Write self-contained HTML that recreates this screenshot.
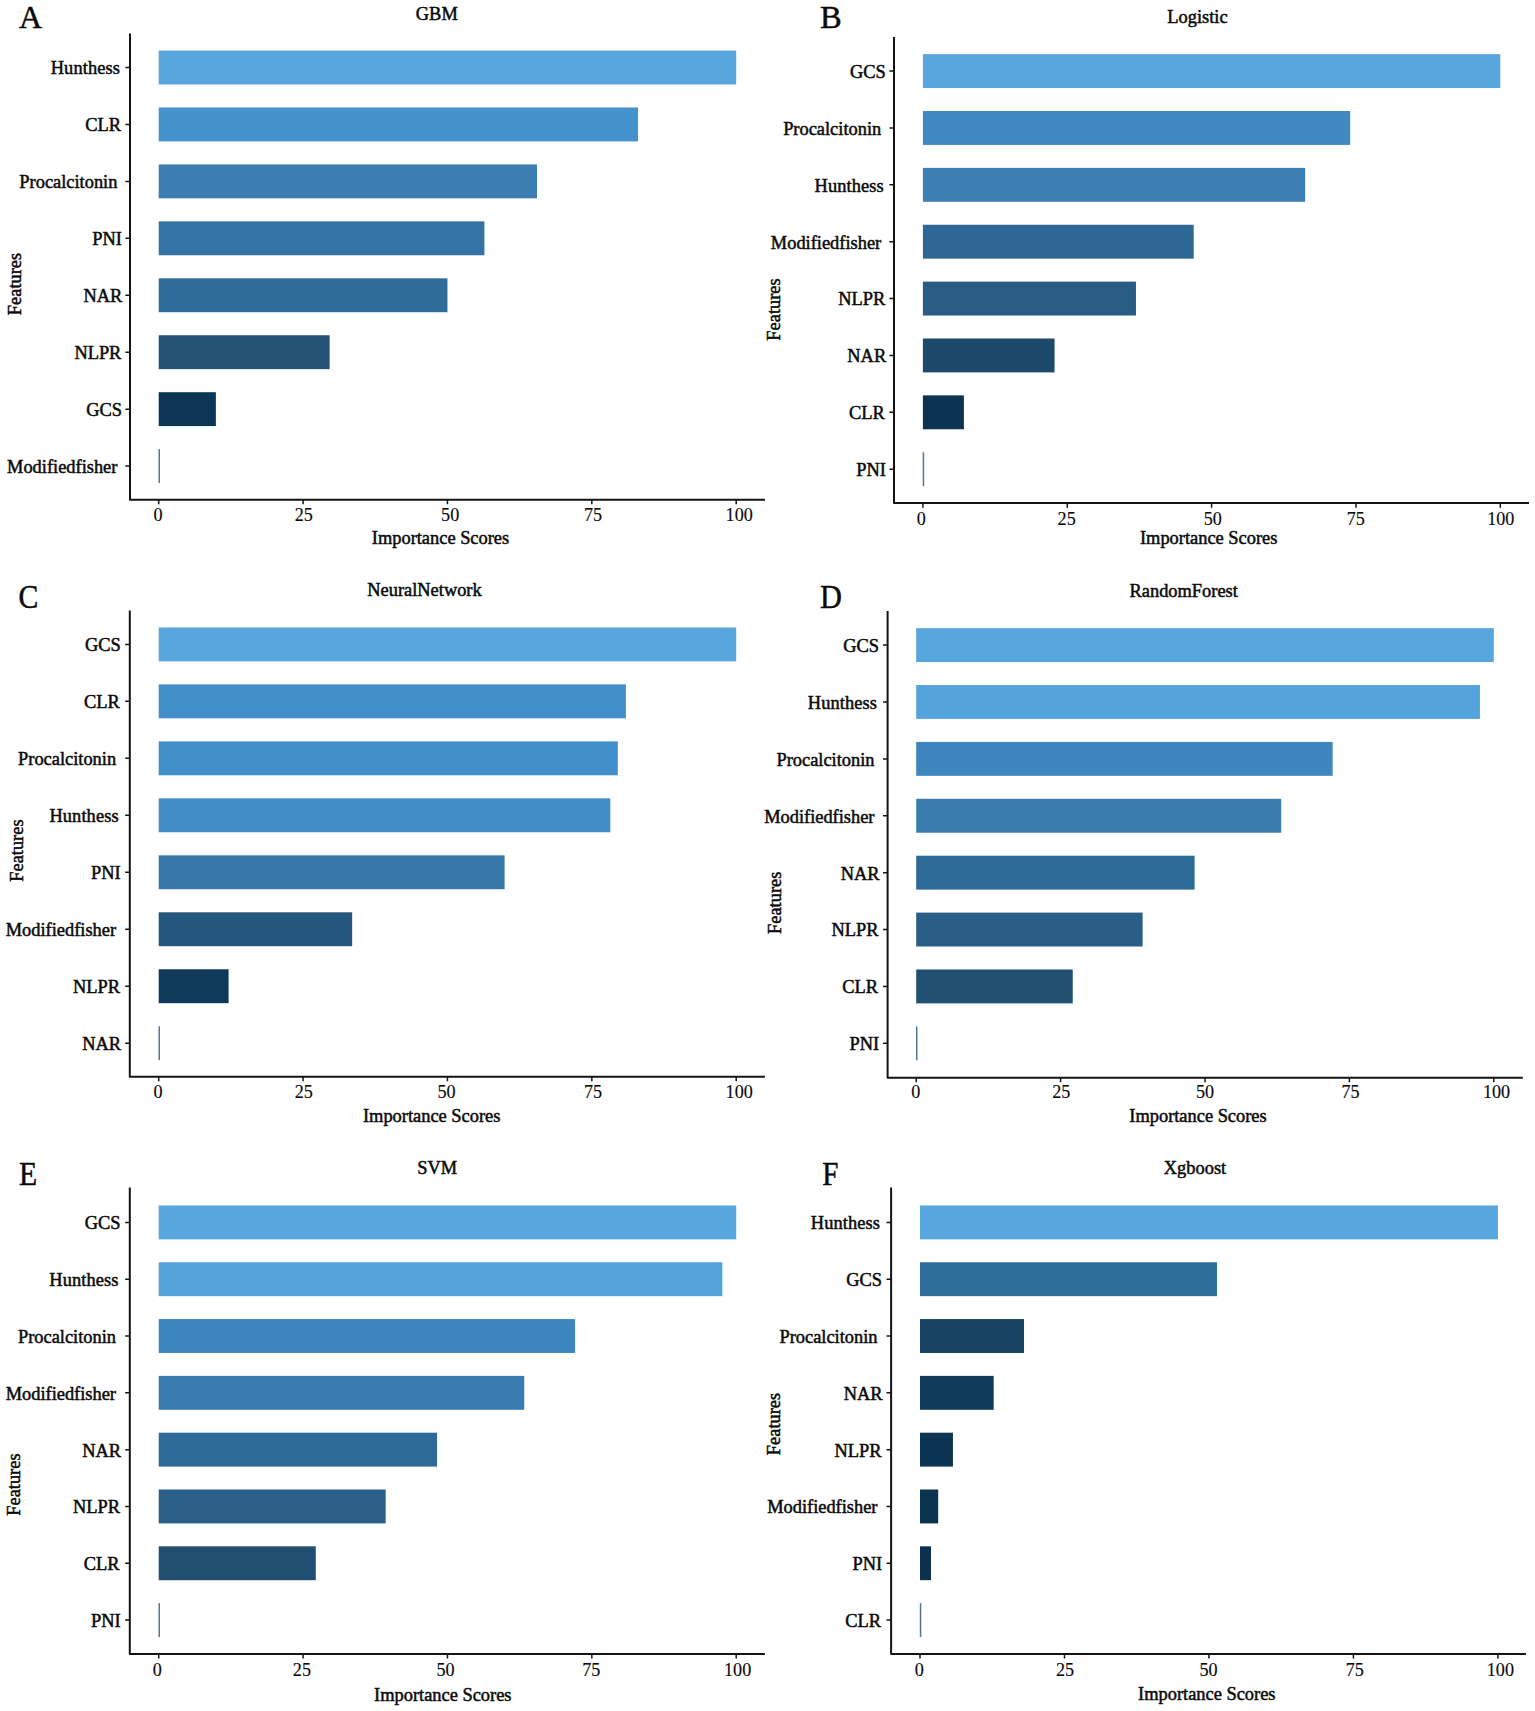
<!DOCTYPE html>
<html lang="en"><head><meta charset="utf-8"><title>Feature importance by model</title>
<style>html,body{margin:0;padding:0;background:#fff}svg{display:block;font-family:"Liberation Serif",serif;font-variant-ligatures:none;font-kerning:none}text{fill:#0a0a0a;stroke:#0a0a0a;stroke-width:0.5px}text.n{stroke-width:0.15px}</style></head><body>
<svg width="1535" height="1711" viewBox="0 0 1535 1711">
<rect width="1535" height="1711" fill="#ffffff"/>
<g>
<text transform="translate(19 27.5) scale(1 1)" font-size="32">A</text>
<text x="436.8" y="20" font-size="18.4" text-anchor="middle">GBM</text>
<rect x="158.7" y="50.55" width="577.5" height="33.9" fill="#57a6dd"/>
<rect x="158.7" y="107.49" width="479.33" height="33.9" fill="#4493ce"/>
<rect x="158.7" y="164.43" width="378.26" height="33.9" fill="#3b7eb2"/>
<rect x="158.7" y="221.37" width="325.71" height="33.9" fill="#3474a4"/>
<rect x="158.7" y="278.31" width="288.75" height="33.9" fill="#2f6c9a"/>
<rect x="158.7" y="335.25" width="170.94" height="33.9" fill="#235274"/>
<rect x="158.7" y="392.19" width="57.17" height="33.9" fill="#0c3654"/>
<rect x="158.5" y="449.13" width="1.5" height="33.9" fill="#587689"/>
<path d="M130 33.4V499.7H765" fill="none" stroke="#141414" stroke-width="2" stroke-linejoin="round"/>
<text x="120" y="74.4" font-size="18.4" text-anchor="end" letter-spacing="0.1">Hunthess</text>
<text x="121" y="131.34" font-size="18.4" text-anchor="end">CLR</text>
<text x="117.4" y="188.28" font-size="18.4" text-anchor="end">Procalcitonin</text>
<text x="122" y="245.22" font-size="18.4" text-anchor="end">PNI</text>
<text x="122.4" y="302.16" font-size="18.4" text-anchor="end">NAR</text>
<text x="121.4" y="359.1" font-size="18.4" text-anchor="end">NLPR</text>
<text x="122" y="416.04" font-size="18.4" text-anchor="end">GCS</text>
<text x="117.4" y="472.98" font-size="18.4" text-anchor="end">Modifiedfisher</text>
<text class="n" transform="translate(158 520.8) scale(0.955 1)" font-size="19" text-anchor="middle">0</text>
<text class="n" transform="translate(303.77 520.8) scale(0.955 1)" font-size="19" text-anchor="middle">25</text>
<text class="n" transform="translate(450.15 520.8) scale(0.955 1)" font-size="19" text-anchor="middle">50</text>
<text class="n" transform="translate(593.03 520.8) scale(0.955 1)" font-size="19" text-anchor="middle">75</text>
<text class="n" transform="translate(739.2 520.8) scale(0.955 1)" font-size="19" text-anchor="middle">100</text>
<path d="M125.4 67.5h4.6M125.4 124.44h4.6M125.4 181.38h4.6M125.4 238.32h4.6M125.4 295.26h4.6M125.4 352.2h4.6M125.4 409.14h4.6M125.4 466.08h4.6M158.7 499.7v4.6M303.07 499.7v4.6M447.45 499.7v4.6M591.83 499.7v4.6M736.2 499.7v4.6" fill="none" stroke="#141414" stroke-width="1.5"/>
<text x="440.5" y="543.7" font-size="18.4" text-anchor="middle">Importance Scores</text>
<text transform="translate(21 284) rotate(-90)" font-size="18.4" text-anchor="middle">Features</text>
</g>
<g>
<text transform="translate(820 27.8) scale(1 1)" font-size="32.5">B</text>
<text x="1197.5" y="22.9" font-size="18.4" text-anchor="middle">Logistic</text>
<rect x="922.9" y="54.15" width="577.4" height="33.9" fill="#57a6dd"/>
<rect x="922.9" y="111.02" width="427.28" height="33.9" fill="#3f88c1"/>
<rect x="922.9" y="167.89" width="382.24" height="33.9" fill="#3c7fb4"/>
<rect x="922.9" y="224.76" width="270.8" height="33.9" fill="#2d6894"/>
<rect x="922.9" y="281.63" width="213.06" height="33.9" fill="#285c82"/>
<rect x="922.9" y="338.5" width="131.65" height="33.9" fill="#1d496b"/>
<rect x="922.9" y="395.37" width="41" height="33.9" fill="#0c3452"/>
<rect x="922.7" y="452.24" width="1.5" height="33.9" fill="#587689"/>
<path d="M894 37V503.1H1529" fill="none" stroke="#141414" stroke-width="2" stroke-linejoin="round"/>
<text x="885.8" y="78" font-size="18.4" text-anchor="end">GCS</text>
<text x="881.2" y="134.87" font-size="18.4" text-anchor="end">Procalcitonin</text>
<text x="883.8" y="191.74" font-size="18.4" text-anchor="end" letter-spacing="0.1">Hunthess</text>
<text x="881.2" y="248.61" font-size="18.4" text-anchor="end">Modifiedfisher</text>
<text x="885.2" y="305.48" font-size="18.4" text-anchor="end">NLPR</text>
<text x="886.2" y="362.35" font-size="18.4" text-anchor="end">NAR</text>
<text x="884.8" y="419.22" font-size="18.4" text-anchor="end">CLR</text>
<text x="885.8" y="476.09" font-size="18.4" text-anchor="end">PNI</text>
<text class="n" transform="translate(921.4 525) scale(0.955 1)" font-size="19" text-anchor="middle">0</text>
<text class="n" transform="translate(1066.65 525) scale(0.955 1)" font-size="19" text-anchor="middle">25</text>
<text class="n" transform="translate(1212.8 525) scale(0.955 1)" font-size="19" text-anchor="middle">50</text>
<text class="n" transform="translate(1355.75 525) scale(0.955 1)" font-size="19" text-anchor="middle">75</text>
<text class="n" transform="translate(1500.8 525) scale(0.955 1)" font-size="19" text-anchor="middle">100</text>
<path d="M889.4 71.1h4.6M889.4 127.97h4.6M889.4 184.84h4.6M889.4 241.71h4.6M889.4 298.58h4.6M889.4 355.45h4.6M889.4 412.32h4.6M889.4 469.19h4.6M922.9 503.1v4.6M1067.25 503.1v4.6M1211.6 503.1v4.6M1355.95 503.1v4.6M1500.3 503.1v4.6" fill="none" stroke="#141414" stroke-width="1.5"/>
<text x="1208.7" y="543.7" font-size="18.4" text-anchor="middle">Importance Scores</text>
<text transform="translate(780.3 309.5) rotate(-90)" font-size="18.4" text-anchor="middle">Features</text>
</g>
<g>
<text transform="translate(18.6 608.1) scale(0.9 1)" font-size="33">C</text>
<text x="424.5" y="596" font-size="18.4" text-anchor="middle">NeuralNetwork</text>
<rect x="158.7" y="627.45" width="577.5" height="33.9" fill="#57a6dd"/>
<rect x="158.7" y="684.42" width="467.2" height="33.9" fill="#4190cc"/>
<rect x="158.7" y="741.39" width="459.11" height="33.9" fill="#408eca"/>
<rect x="158.7" y="798.36" width="451.61" height="33.9" fill="#408dc8"/>
<rect x="158.7" y="855.33" width="345.92" height="33.9" fill="#3778a9"/>
<rect x="158.7" y="912.3" width="193.46" height="33.9" fill="#25577c"/>
<rect x="158.7" y="969.27" width="69.88" height="33.9" fill="#0f3958"/>
<rect x="158.5" y="1026.24" width="1.5" height="33.9" fill="#587689"/>
<path d="M129.8 610.4V1076.7H764.9" fill="none" stroke="#141414" stroke-width="2" stroke-linejoin="round"/>
<text x="120.7" y="651.3" font-size="18.4" text-anchor="end">GCS</text>
<text x="119.7" y="708.27" font-size="18.4" text-anchor="end">CLR</text>
<text x="116.1" y="765.24" font-size="18.4" text-anchor="end">Procalcitonin</text>
<text x="118.7" y="822.21" font-size="18.4" text-anchor="end" letter-spacing="0.1">Hunthess</text>
<text x="120.7" y="879.18" font-size="18.4" text-anchor="end">PNI</text>
<text x="116.1" y="936.15" font-size="18.4" text-anchor="end">Modifiedfisher</text>
<text x="120.1" y="993.12" font-size="18.4" text-anchor="end">NLPR</text>
<text x="121.1" y="1050.09" font-size="18.4" text-anchor="end">NAR</text>
<text class="n" transform="translate(158 1098.1) scale(0.955 1)" font-size="19" text-anchor="middle">0</text>
<text class="n" transform="translate(303.77 1098.1) scale(0.955 1)" font-size="19" text-anchor="middle">25</text>
<text class="n" transform="translate(446.45 1098.1) scale(0.955 1)" font-size="19" text-anchor="middle">50</text>
<text class="n" transform="translate(593.03 1098.1) scale(0.955 1)" font-size="19" text-anchor="middle">75</text>
<text class="n" transform="translate(739.2 1098.1) scale(0.955 1)" font-size="19" text-anchor="middle">100</text>
<path d="M125.2 644.4h4.6M125.2 701.37h4.6M125.2 758.34h4.6M125.2 815.31h4.6M125.2 872.28h4.6M125.2 929.25h4.6M125.2 986.22h4.6M125.2 1043.19h4.6M158.7 1076.7v4.6M303.07 1076.7v4.6M447.45 1076.7v4.6M591.83 1076.7v4.6M736.2 1076.7v4.6" fill="none" stroke="#141414" stroke-width="1.5"/>
<text x="431.7" y="1122.3" font-size="18.4" text-anchor="middle">Importance Scores</text>
<text transform="translate(23 850.6) rotate(-90)" font-size="18.4" text-anchor="middle">Features</text>
</g>
<g>
<text transform="translate(819.9 608.2) scale(0.92 1)" font-size="33">D</text>
<text x="1183.7" y="596.8" font-size="18.4" text-anchor="middle">RandomForest</text>
<rect x="916.2" y="628.15" width="577.6" height="33.9" fill="#57a6dd"/>
<rect x="916.2" y="685.04" width="563.74" height="33.9" fill="#54a3db"/>
<rect x="916.2" y="741.93" width="416.45" height="33.9" fill="#3f86be"/>
<rect x="916.2" y="798.82" width="365.04" height="33.9" fill="#3a7cae"/>
<rect x="916.2" y="855.71" width="278.4" height="33.9" fill="#2e6a97"/>
<rect x="916.2" y="912.6" width="226.42" height="33.9" fill="#295f86"/>
<rect x="916.2" y="969.49" width="156.53" height="33.9" fill="#214f71"/>
<rect x="916" y="1026.38" width="1.5" height="33.9" fill="#587689"/>
<path d="M887.6 610.9V1077.7H1522.8" fill="none" stroke="#141414" stroke-width="2" stroke-linejoin="round"/>
<text x="879.1" y="652" font-size="18.4" text-anchor="end">GCS</text>
<text x="877.1" y="708.89" font-size="18.4" text-anchor="end" letter-spacing="0.1">Hunthess</text>
<text x="874.5" y="765.78" font-size="18.4" text-anchor="end">Procalcitonin</text>
<text x="874.5" y="822.67" font-size="18.4" text-anchor="end">Modifiedfisher</text>
<text x="879.5" y="879.56" font-size="18.4" text-anchor="end">NAR</text>
<text x="878.5" y="936.45" font-size="18.4" text-anchor="end">NLPR</text>
<text x="878.1" y="993.34" font-size="18.4" text-anchor="end">CLR</text>
<text x="879.1" y="1050.23" font-size="18.4" text-anchor="end">PNI</text>
<text class="n" transform="translate(915.7 1098.4) scale(0.955 1)" font-size="19" text-anchor="middle">0</text>
<text class="n" transform="translate(1061.2 1098.4) scale(0.955 1)" font-size="19" text-anchor="middle">25</text>
<text class="n" transform="translate(1205.1 1098.4) scale(0.955 1)" font-size="19" text-anchor="middle">50</text>
<text class="n" transform="translate(1350.6 1098.4) scale(0.955 1)" font-size="19" text-anchor="middle">75</text>
<text class="n" transform="translate(1496.5 1098.4) scale(0.955 1)" font-size="19" text-anchor="middle">100</text>
<path d="M883 645.1h4.6M883 701.99h4.6M883 758.88h4.6M883 815.77h4.6M883 872.66h4.6M883 929.55h4.6M883 986.44h4.6M883 1043.33h4.6M916.2 1077.7v4.6M1060.6 1077.7v4.6M1205 1077.7v4.6M1349.4 1077.7v4.6M1493.8 1077.7v4.6" fill="none" stroke="#141414" stroke-width="1.5"/>
<text x="1198" y="1122.3" font-size="18.4" text-anchor="middle">Importance Scores</text>
<text transform="translate(781.4 902.8) rotate(-90)" font-size="18.4" text-anchor="middle">Features</text>
</g>
<g>
<text transform="translate(19.1 1184.5) scale(0.9 1)" font-size="33">E</text>
<text x="437.2" y="1173.7" font-size="18.4" text-anchor="middle">SVM</text>
<rect x="158.7" y="1205.45" width="577.5" height="33.9" fill="#57a6dd"/>
<rect x="158.7" y="1262.26" width="563.64" height="33.9" fill="#54a3db"/>
<rect x="158.7" y="1319.07" width="416.38" height="33.9" fill="#3f86be"/>
<rect x="158.7" y="1375.88" width="365.56" height="33.9" fill="#3a7caf"/>
<rect x="158.7" y="1432.69" width="278.36" height="33.9" fill="#2e6a97"/>
<rect x="158.7" y="1489.5" width="226.96" height="33.9" fill="#2a5f87"/>
<rect x="158.7" y="1546.31" width="157.08" height="33.9" fill="#214f71"/>
<rect x="158.5" y="1603.12" width="1.5" height="33.9" fill="#587689"/>
<path d="M129.8 1187.5V1653.9H764.9" fill="none" stroke="#141414" stroke-width="2" stroke-linejoin="round"/>
<text x="120.6" y="1229.3" font-size="18.4" text-anchor="end">GCS</text>
<text x="118.6" y="1286.11" font-size="18.4" text-anchor="end" letter-spacing="0.1">Hunthess</text>
<text x="116" y="1342.92" font-size="18.4" text-anchor="end">Procalcitonin</text>
<text x="116" y="1399.73" font-size="18.4" text-anchor="end">Modifiedfisher</text>
<text x="121" y="1456.54" font-size="18.4" text-anchor="end">NAR</text>
<text x="120" y="1513.35" font-size="18.4" text-anchor="end">NLPR</text>
<text x="119.6" y="1570.16" font-size="18.4" text-anchor="end">CLR</text>
<text x="120.6" y="1626.97" font-size="18.4" text-anchor="end">PNI</text>
<text class="n" transform="translate(157.3 1675.6) scale(0.955 1)" font-size="19" text-anchor="middle">0</text>
<text class="n" transform="translate(301.88 1675.6) scale(0.955 1)" font-size="19" text-anchor="middle">25</text>
<text class="n" transform="translate(445.45 1675.6) scale(0.955 1)" font-size="19" text-anchor="middle">50</text>
<text class="n" transform="translate(591.23 1675.6) scale(0.955 1)" font-size="19" text-anchor="middle">75</text>
<text class="n" transform="translate(737.6 1675.6) scale(0.955 1)" font-size="19" text-anchor="middle">100</text>
<path d="M125.2 1222.4h4.6M125.2 1279.21h4.6M125.2 1336.02h4.6M125.2 1392.83h4.6M125.2 1449.64h4.6M125.2 1506.45h4.6M125.2 1563.26h4.6M125.2 1620.07h4.6M158.7 1653.9v4.6M303.07 1653.9v4.6M447.45 1653.9v4.6M591.83 1653.9v4.6M736.2 1653.9v4.6" fill="none" stroke="#141414" stroke-width="1.5"/>
<text x="442.8" y="1701" font-size="18.4" text-anchor="middle">Importance Scores</text>
<text transform="translate(19.5 1484.6) rotate(-90)" font-size="18.4" text-anchor="middle">Features</text>
</g>
<g>
<text transform="translate(822.2 1184.5) scale(0.88 1)" font-size="33">F</text>
<text x="1195" y="1173.7" font-size="18.4" text-anchor="middle">Xgboost</text>
<rect x="920" y="1205.45" width="577.9" height="33.9" fill="#57a6dd"/>
<rect x="920" y="1262.26" width="297.04" height="33.9" fill="#306e9c"/>
<rect x="920" y="1319.07" width="104.02" height="33.9" fill="#184363"/>
<rect x="920" y="1375.88" width="73.68" height="33.9" fill="#103a59"/>
<rect x="920" y="1432.69" width="32.94" height="33.9" fill="#0c3351"/>
<rect x="920" y="1489.5" width="18.2" height="33.9" fill="#0b324f"/>
<rect x="920" y="1546.31" width="10.98" height="33.9" fill="#0b314e"/>
<rect x="919.8" y="1603.12" width="1.5" height="33.9" fill="#587689"/>
<path d="M891.1 1187.5V1653.9H1525.9" fill="none" stroke="#141414" stroke-width="2" stroke-linejoin="round"/>
<text x="880.1" y="1229.3" font-size="18.4" text-anchor="end" letter-spacing="0.1">Hunthess</text>
<text x="882.1" y="1286.11" font-size="18.4" text-anchor="end">GCS</text>
<text x="877.5" y="1342.92" font-size="18.4" text-anchor="end">Procalcitonin</text>
<text x="882.5" y="1399.73" font-size="18.4" text-anchor="end">NAR</text>
<text x="881.5" y="1456.54" font-size="18.4" text-anchor="end">NLPR</text>
<text x="877.5" y="1513.35" font-size="18.4" text-anchor="end">Modifiedfisher</text>
<text x="882.1" y="1570.16" font-size="18.4" text-anchor="end">PNI</text>
<text x="881.1" y="1626.97" font-size="18.4" text-anchor="end">CLR</text>
<text class="n" transform="translate(919.3 1675.6) scale(0.955 1)" font-size="19" text-anchor="middle">0</text>
<text class="n" transform="translate(1065.07 1675.6) scale(0.955 1)" font-size="19" text-anchor="middle">25</text>
<text class="n" transform="translate(1208.55 1675.6) scale(0.955 1)" font-size="19" text-anchor="middle">50</text>
<text class="n" transform="translate(1354.83 1675.6) scale(0.955 1)" font-size="19" text-anchor="middle">75</text>
<text class="n" transform="translate(1500.4 1675.6) scale(0.955 1)" font-size="19" text-anchor="middle">100</text>
<path d="M886.5 1222.4h4.6M886.5 1279.21h4.6M886.5 1336.02h4.6M886.5 1392.83h4.6M886.5 1449.64h4.6M886.5 1506.45h4.6M886.5 1563.26h4.6M886.5 1620.07h4.6M920 1653.9v4.6M1064.47 1653.9v4.6M1208.95 1653.9v4.6M1353.43 1653.9v4.6M1497.9 1653.9v4.6" fill="none" stroke="#141414" stroke-width="1.5"/>
<text x="1206.8" y="1699.7" font-size="18.4" text-anchor="middle">Importance Scores</text>
<text transform="translate(780.3 1424) rotate(-90)" font-size="18.4" text-anchor="middle">Features</text>
</g>
</svg></body></html>
